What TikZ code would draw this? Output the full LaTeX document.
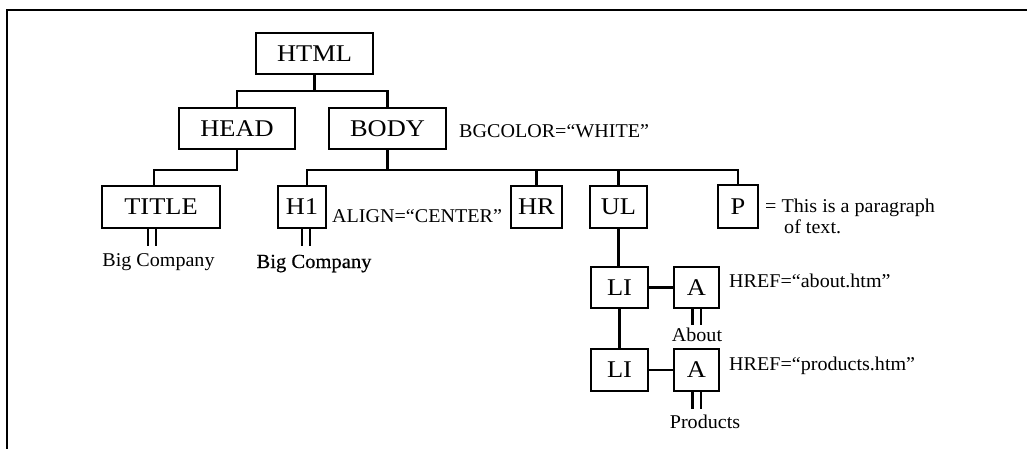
\documentclass[tikz,border=0pt]{standalone}
\usepackage{fontspec}
\setmainfont[FakeStretch=1.03]{Liberation Serif}
\newfontfamily\tagfont[FakeStretch=1.1]{Liberation Serif}
\newfontfamily\heavyserif[FakeBold=0.5,FakeStretch=1.03]{Liberation Serif}
\begin{document}
\begin{tikzpicture}[x=1pt,y=-1pt,
  tag/.style={draw, line width=2.4pt, inner sep=0pt, minimum height=41pt,
              font=\fontsize{24}{28}\tagfont},
  note/.style={inner sep=0pt, anchor=base west, font=\fontsize{19.5}{22}\selectfont},
  leaf/.style={inner sep=0pt, anchor=base, font=\fontsize{19.5}{22}\selectfont},
  link/.style={line width=2.4pt},
  dbl/.style={double, line width=2.3pt, double distance=6pt}]
\useasboundingbox (0,0) rectangle (1027,449);

% frame edges
\draw[line width=2.8pt] (7,449) -- (7,10) -- (1027,10);

% element boxes
\node[tag, minimum width=117pt] (html)  at (314.5,53.5) {HTML};
\node[tag, minimum width=116pt] (head)  at (237,128.5)  {HEAD};
\node[tag, minimum width=117pt] (body)  at (387.5,128.5){BODY};
\node[tag, minimum width=118pt, minimum height=42pt] (title) at (161,207) {TITLE};
\node[tag, minimum width=48pt, minimum height=42pt]  (h1)    at (302,207) {H1};
\node[tag, minimum width=51pt, minimum height=42pt]  (hr)    at (536.5,207) {HR};
\node[tag, minimum width=57pt, minimum height=42pt]  (ul)    at (618.5,207) {UL};
\node[tag, minimum width=40pt, minimum height=43pt]  (p)     at (738,206.5) {P};
\node[tag, minimum width=57pt] (li1) at (619.5,287.5) {LI};
\node[tag, minimum width=45pt] (a1)  at (696.5,287.5) {A};
\node[tag, minimum width=57pt, minimum height=42pt] (li2) at (619.5,370) {LI};
\node[tag, minimum width=45pt, minimum height=42pt] (a2)  at (696.5,370) {A};

% attributes and text content
\node[note] (bgcolor) at (459,138) {BGCOLOR=``WHITE''};
\node[note] (align)   at (332,222) {ALIGN=``CENTER''};
\node[note] (para)    at (765,212) {= This is a paragraph};
\node[note] (para2)   at (784,233.5) {of text.};
\node[note] (href1)   at (729,287) {HREF=``about.htm''};
\node[note] (href2)   at (729,370) {HREF=``products.htm''};
\node[leaf] (txt1) at (158.5,266) {Big Company};
\node[leaf, font=\fontsize{20}{22}\heavyserif] (txt2) at (314,268) {Big Company};
\node[leaf] (txt3) at (697,341) {About};
\node[leaf] (txt4) at (705,428) {Products};

% tree connectors
\draw[link] (html.south) -- ++(0,16) coordinate (j1);
\draw[link] (head.north) |- (j1) -| (body.north);
\draw[link] (head.south) -- ++(0,20) -| ([xshift=-7pt]title.north);
\draw[link] (body.south) -- ++(0,20) coordinate (j2);
\draw[link] ([xshift=5pt]h1.north) |- (j2) -| (p.north);
\draw[link] (hr.north) -- (hr.north |- j2);
\draw[link] (ul.north) -- (ul.north |- j2);
\draw[link] (ul.south) -- (ul.south |- li1.north);
\draw[link] (li1.south) -- (li2.north);
\draw[link] (li1.east) -- (a1.west);
\draw[link] (li2.east) -- (a2.west);

% content links
\draw[dbl] ([xshift=-9pt]title.south) -- ++(0,17);
\draw[dbl] ([xshift=4pt]h1.south) -- ++(0,17);
\draw[dbl] (a1.south) -- ++(0,16);
\draw[dbl] (a2.south) -- ++(0,17);
\end{tikzpicture}
\end{document}
